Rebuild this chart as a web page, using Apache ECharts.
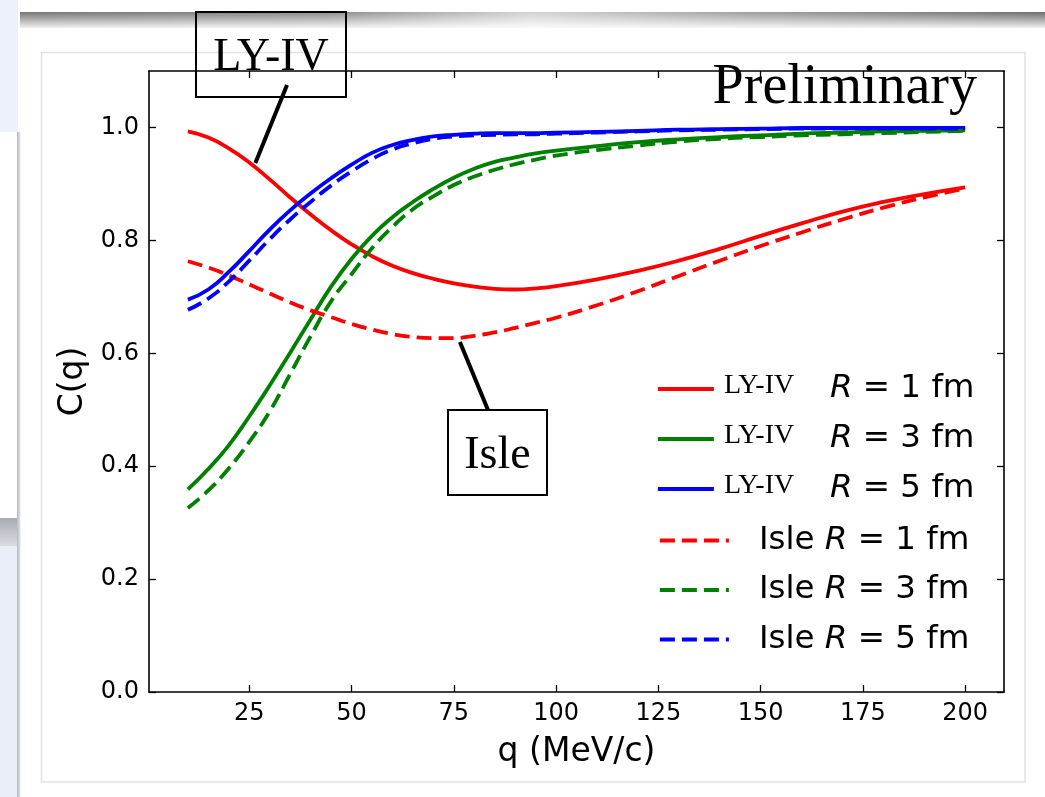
<!DOCTYPE html>
<html>
<head>
<meta charset="utf-8">
<script src="https://cdn.jsdelivr.net/npm/echarts@6/dist/echarts.min.js"></script>
<style>
  html, body { margin: 0; padding: 0; background: #ffffff; }
  #chart { width: 1045px; height: 797px; }
</style>
</head>
<body>
<div id="chart"></div>
<script>
// Momentum grid (MeV/c)
const qValues = [10, 15, 20, 25, 30, 35, 40, 45, 50, 55, 60, 65, 70, 75, 80, 85, 90, 95, 100,
                 110, 120, 130, 140, 150, 160, 170, 180, 190, 200];

// Correlation function C(q), LY-IV potential
const lyR1 = [0.993, 0.982, 0.963, 0.938, 0.908, 0.876, 0.846, 0.818, 0.793, 0.772, 0.755, 0.742, 0.732, 0.724, 0.718, 0.714, 0.713, 0.715, 0.719,
              0.731, 0.746, 0.764, 0.785, 0.808, 0.830, 0.851, 0.868, 0.882, 0.894];
const lyR3 = [0.359, 0.395, 0.437, 0.488, 0.543, 0.601, 0.660, 0.718, 0.767, 0.808, 0.841, 0.868, 0.891, 0.911, 0.927, 0.939, 0.947, 0.954, 0.959,
              0.967, 0.974, 0.979, 0.983, 0.986, 0.989, 0.991, 0.993, 0.994, 0.995];
const lyR5 = [0.695, 0.713, 0.744, 0.781, 0.819, 0.853, 0.883, 0.910, 0.934, 0.955, 0.969, 0.978, 0.984, 0.987, 0.989, 0.990, 0.990, 0.990, 0.991,
              0.992, 0.994, 0.996, 0.997, 0.998, 0.999, 0.999, 0.999, 0.999, 0.999];

// Correlation function C(q), Isle potential
const isleR1 = [0.763, 0.752, 0.738, 0.722, 0.706, 0.690, 0.676, 0.664, 0.652, 0.642, 0.634, 0.629, 0.627, 0.627, 0.631, 0.637, 0.645, 0.654, 0.663,
                0.685, 0.710, 0.737, 0.764, 0.790, 0.814, 0.837, 0.858, 0.876, 0.892];
const isleR3 = [0.326, 0.357, 0.396, 0.443, 0.497, 0.563, 0.630, 0.692, 0.740, 0.786, 0.824, 0.855, 0.878, 0.898, 0.913, 0.925, 0.935, 0.943, 0.950,
                0.960, 0.968, 0.975, 0.980, 0.983, 0.986, 0.988, 0.990, 0.992, 0.994];
const isleR5 = [0.677, 0.697, 0.727, 0.764, 0.802, 0.837, 0.868, 0.897, 0.922, 0.944, 0.961, 0.972, 0.980, 0.984, 0.986, 0.987, 0.988, 0.988, 0.989,
                0.991, 0.993, 0.995, 0.996, 0.997, 0.998, 0.998, 0.998, 0.998, 0.998];

// Tick values
const xTicks = [25, 50, 75, 100, 125, 150, 175, 200];
const yTicks = [0.0, 0.2, 0.4, 0.6, 0.8, 1.0];

// Curve descriptions: model, source radius (fm), values
const curveModels = ['LY-IV', 'LY-IV', 'LY-IV', 'Isle', 'Isle', 'Isle'];
const curveRadii = [1, 3, 5, 1, 3, 5];
const curveValues = [lyR1, lyR3, lyR5, isleR1, isleR3, isleR5];
const curveColors = ['#ff0000', '#008000', '#0000ff', '#ff0000', '#008000', '#0000ff'];

// Annotation anchors in data space (q, C)
const lyPointer = [26.5, 0.937];
const islePointer = [76.5, 0.620];

const SANS = 'DejaVu Sans';
const SERIF = 'Liberation Serif';
const LINE_W = 3.8;
const DASH = [15, 7];

const chart = echarts.init(document.getElementById('chart'), null, { renderer: 'canvas' });

const seriesNames = curveModels.map((m, i) => m + ' R=' + curveRadii[i] + ' fm');

const series = curveValues.map((vals, i) => ({
  name: seriesNames[i],
  type: 'line',
  xAxisIndex: 0,
  yAxisIndex: 0,
  data: qValues.map((q, k) => [q, vals[k]]),
  symbol: 'none',
  smooth: 0.5,
  lineStyle: {
    color: curveColors[i],
    width: LINE_W,
    type: curveModels[i] === 'Isle' ? DASH : 'solid',
    cap: 'butt'
  },
  itemStyle: { color: curveColors[i] },
  z: 3
}));

function legendFormatter(name) {
  const i = seriesNames.indexOf(name);
  if (curveModels[i] === 'LY-IV') {
    return '{a|LY-IV}{r|R}{b| = ' + curveRadii[i] + ' fm}';
  }
  return '{b|Isle }{r|R}{b| = ' + curveRadii[i] + ' fm}';
}

const legendRich = {
  a: { fontFamily: SERIF, fontSize: 28, color: '#000', width: 106, lineHeight: 20, verticalAlign: 'top' },
  r: { fontFamily: SANS, fontStyle: 'italic', fontSize: 32.5, color: '#000', lineHeight: 34 },
  b: { fontFamily: SANS, fontSize: 32.5, color: '#000', lineHeight: 34 }
};

const axisLineStyle = { color: '#000', width: 1.6 };
const tickStyle = { color: '#000', width: 1.3 };

chart.setOption({
  animation: false,
  backgroundColor: 'transparent',
  grid: { left: 149, right: 41, top: 71, bottom: 105, containLabel: false },
  xAxis: [
    {
      type: 'value', position: 'bottom', min: 0.5, max: 209.5,
      axisLine: { show: true, onZero: false, lineStyle: axisLineStyle },
      axisTick: { show: true, inside: true, length: 7, lineStyle: tickStyle, customValues: xTicks },
      axisLabel: { show: true, customValues: xTicks, color: '#000', fontFamily: SANS, fontSize: 24, margin: 10 },
      splitLine: { show: false },
      name: 'q (MeV/c)', nameLocation: 'middle', nameGap: 44,
      nameTextStyle: { color: '#000', fontFamily: SANS, fontSize: 33 }
    },
    {
      type: 'value', position: 'top', min: 0.5, max: 209.5,
      axisLine: { show: true, onZero: false, lineStyle: axisLineStyle },
      axisTick: { show: true, inside: true, length: 7, lineStyle: tickStyle, customValues: xTicks },
      axisLabel: { show: false },
      splitLine: { show: false }
    }
  ],
  yAxis: [
    {
      type: 'value', position: 'left', min: 0, max: 1.1,
      axisLine: { show: true, onZero: false, lineStyle: axisLineStyle },
      axisTick: { show: true, inside: true, length: 7, lineStyle: tickStyle, customValues: yTicks },
      axisLabel: { show: true, customValues: yTicks, color: '#000', fontFamily: SANS, fontSize: 24, margin: 10,
                   formatter: v => Number(v).toFixed(1) },
      splitLine: { show: false },
      name: 'C(q)', nameLocation: 'middle', nameGap: 56,
      nameTextStyle: { color: '#000', fontFamily: SANS, fontSize: 33 }
    },
    {
      type: 'value', position: 'right', min: 0, max: 1.1,
      axisLine: { show: true, onZero: false, lineStyle: axisLineStyle },
      axisTick: { show: true, inside: true, length: 7, lineStyle: tickStyle, customValues: yTicks },
      axisLabel: { show: false },
      splitLine: { show: false }
    }
  ],
  legend: [
    {
      data: seriesNames.slice(0, 3),
      orient: 'vertical', left: 656, top: 372, padding: 0,
      itemWidth: 56, itemHeight: 14, itemGap: 16.5,
      selectedMode: false,
      itemStyle: { opacity: 0 },
      lineStyle: { width: LINE_W, type: 'solid', cap: 'butt' },
      formatter: legendFormatter,
      textStyle: { padding: [0, 0, 0, 5], rich: legendRich }
    },
    {
      data: seriesNames.slice(3),
      orient: 'vertical', left: 658, top: 524, padding: 0,
      itemWidth: 69, itemHeight: 14, itemGap: 16.5,
      selectedMode: false,
      itemStyle: { opacity: 0 },
      lineStyle: { width: LINE_W, type: DASH, cap: 'butt' },
      formatter: legendFormatter,
      textStyle: { padding: [0, 0, 0, 25], rich: legendRich }
    }
  ],
  series: series
});

// Page decoration, annotation boxes and pointers
const lyTip = chart.convertToPixel({ xAxisIndex: 0, yAxisIndex: 0 }, lyPointer);
const isleTip = chart.convertToPixel({ xAxisIndex: 0, yAxisIndex: 0 }, islePointer);

chart.setOption({
  graphic: [
    // left strip
    { type: 'rect', z: -100, silent: true, shape: { x: 0, y: 0, width: 18, height: 132 }, style: { fill: '#edf1fa' } },
    { type: 'rect', z: -100, silent: true, shape: { x: 0, y: 518, width: 18, height: 28 },
      style: { fill: new echarts.graphic.LinearGradient(0, 0, 0, 1, [
        { offset: 0, color: '#a9acb3' }, { offset: 1, color: '#d9dce2' }]) } },
    { type: 'rect', z: -100, silent: true, shape: { x: 0, y: 546, width: 18, height: 251 }, style: { fill: '#e9eef9' } },
    { type: 'rect', z: -99, silent: true, shape: { x: 17, y: 132, width: 3.5, height: 665 },
      style: { fill: new echarts.graphic.LinearGradient(0, 0, 1, 0, [
        { offset: 0, color: '#b4b7be' }, { offset: 1, color: '#e4e6ea' }]) } },
    // header band
    { type: 'rect', z: -100, silent: true, shape: { x: 20, y: 12, width: 1025, height: 16 },
      style: { fill: new echarts.graphic.LinearGradient(0, 0, 0, 1, [
        { offset: 0, color: '#6e6e6e' }, { offset: 0.45, color: '#a8a8a8' }, { offset: 1, color: '#f0f0f0' }]) } },
    { type: 'rect', z: -99, silent: true, shape: { x: 20, y: 12, width: 1025, height: 16 },
      style: { fill: new echarts.graphic.LinearGradient(0, 0, 1, 0, [
        { offset: 0, color: 'rgba(255,255,255,0.05)' }, { offset: 0.3, color: 'rgba(255,255,255,0.2)' },
        { offset: 0.5, color: 'rgba(255,255,255,0.7)' }, { offset: 0.7, color: 'rgba(255,255,255,0.35)' },
        { offset: 1, color: 'rgba(255,255,255,0.0)' }]) } },
    // figure frame
    { type: 'rect', z: -98, silent: true, shape: { x: 41.5, y: 52.5, width: 983.5, height: 729.5 },
      style: { fill: 'transparent', stroke: '#e2e2e2', lineWidth: 1.5 } },

    // "Preliminary" label
    { type: 'text', z: 50, silent: true, x: 977, y: 88,
      style: { text: 'Preliminary', fill: '#000', font: '56px "Liberation Serif"', align: 'right', verticalAlign: 'middle' } },

    // LY-IV annotation
    { type: 'rect', z: 50, silent: true, shape: { x: 196, y: 12, width: 150, height: 85 },
      style: { fill: 'transparent', stroke: '#000', lineWidth: 2 } },
    { type: 'text', z: 50, silent: true, x: 271, y: 58,
      style: { text: 'LY-IV', fill: '#000', font: '46px "Liberation Serif"', align: 'center', verticalAlign: 'middle' } },
    { type: 'line', z: 50, silent: true, shape: { x1: 287, y1: 85, x2: lyTip[0], y2: lyTip[1] },
      style: { stroke: '#000', lineWidth: 4 } },

    // Isle annotation
    { type: 'rect', z: 50, silent: true, shape: { x: 448, y: 410, width: 99, height: 85 },
      style: { fill: '#fff', stroke: '#000', lineWidth: 2 } },
    { type: 'text', z: 51, silent: true, x: 497.5, y: 456,
      style: { text: 'Isle', fill: '#000', font: '46px "Liberation Serif"', align: 'center', verticalAlign: 'middle' } },
    { type: 'line', z: 50, silent: true, shape: { x1: 488, y1: 410, x2: isleTip[0], y2: isleTip[1] },
      style: { stroke: '#000', lineWidth: 4 } }
  ]
});
</script>
</body>
</html>
